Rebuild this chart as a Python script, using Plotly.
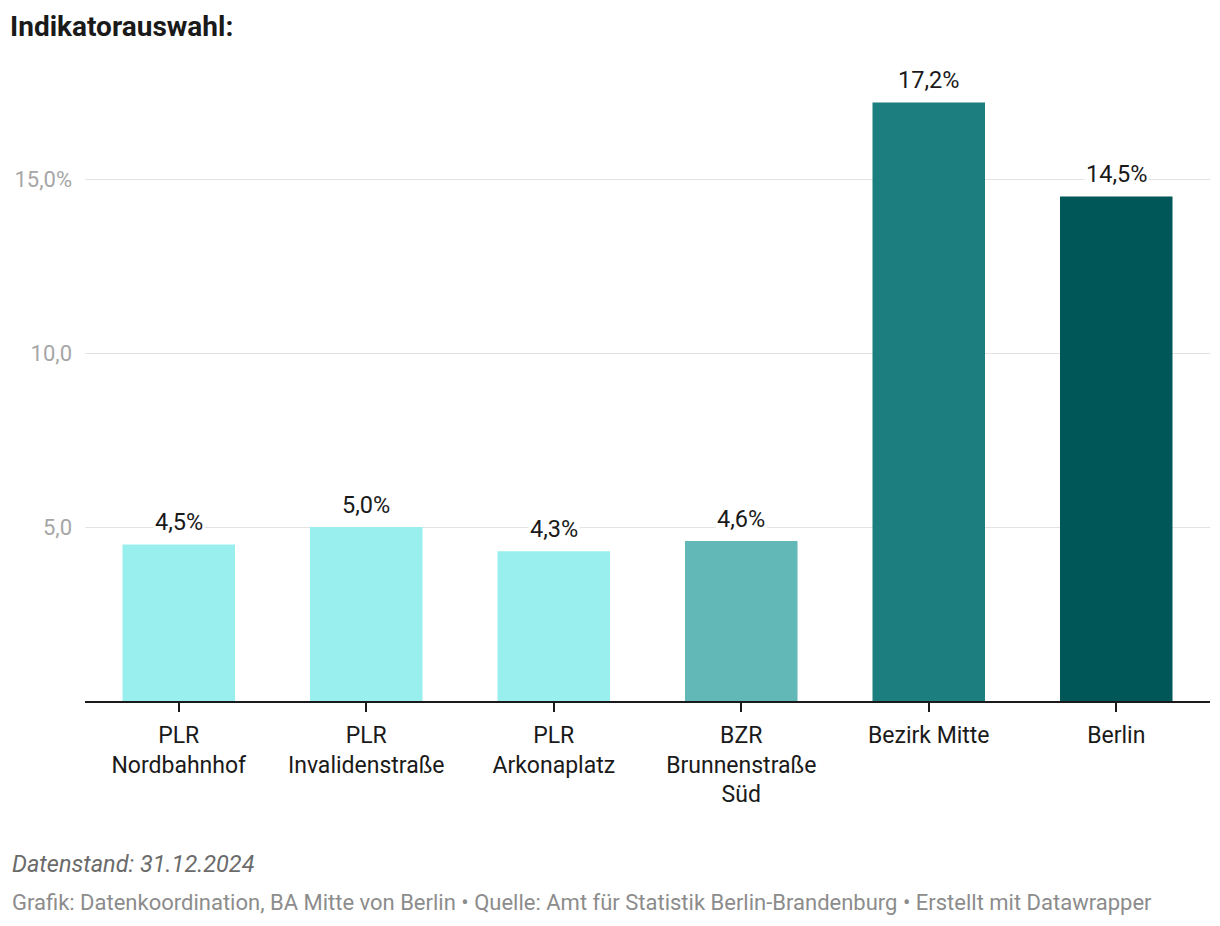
import plotly.graph_objects as go

categories = ["PLR<br>Nordbahnhof", "PLR<br>Invalidenstraße", "PLR<br>Arkonaplatz",
              "BZR<br>Brunnenstraße<br>Süd", "Bezirk Mitte", "Berlin"]
values = [4.5, 5.0, 4.3, 4.6, 17.2, 14.5]
value_labels = ["4,5%", "5,0%", "4,3%", "4,6%", "17,2%", "14,5%"]
bar_colors = ["#98efed", "#98efed", "#98efed", "#61b8b6", "#1c7e7e", "#005757"]
tick_vals = [5, 10, 15]
tick_text = ["5,0", "10,0", "15,0%"]

FONT = "Roboto"

fig = go.Figure()
fig.add_trace(go.Bar(
    x=categories, y=values, marker=dict(color=bar_colors, line=dict(width=0)),
    hoverinfo="skip", showlegend=False,
))

annotations = []
for c, v, t in zip(categories, values, value_labels):
    annotations.append(dict(
        x=c, y=v, xref="x", yref="y", text=t, showarrow=False,
        yanchor="bottom", yshift=6, bgcolor="white", borderpad=1,
        font=dict(family=FONT, size=23.5, color="#1a1a1a"),
    ))

annotations.append(dict(
    xref="paper", yref="paper", x=0, y=0, xshift=-75, yshift=-163,
    xanchor="left", yanchor="middle", showarrow=False,
    text="<i>Datenstand: 31.12.2024</i>",
    font=dict(family=FONT, size=23.5, color="#6b6b6b"),
))
annotations.append(dict(
    xref="paper", yref="paper", x=0, y=0, xshift=-75, yshift=-201,
    xanchor="left", yanchor="middle", showarrow=False,
    text="Grafik: Datenkoordination, BA Mitte von Berlin • Quelle: Amt für Statistik Berlin-Brandenburg • Erstellt mit Datawrapper",
    font=dict(family=FONT, size=22, color="#8c8c8c"),
))

fig.update_layout(
    width=1220, height=926,
    margin=dict(l=85, r=10, t=60, b=225),
    paper_bgcolor="white", plot_bgcolor="white",
    bargap=0.4,
    title=dict(text="<b>Indikatorauswahl:</b>", xref="container", yref="container",
               x=10/1220, y=1 - 26/926, xanchor="left", yanchor="middle",
               font=dict(family=FONT, size=28, color="#1a1a1a")),
    font=dict(family=FONT),
    annotations=annotations,
    xaxis=dict(
        showline=True, linecolor="#1a1a1a", linewidth=2,
        ticks="outside", ticklen=9, tickwidth=2, tickcolor="#1a1a1a",
        ticklabelstandoff=3,
        tickfont=dict(family=FONT, size=23, color="#1a1a1a"),
        showgrid=False, fixedrange=True,
    ),
    yaxis=dict(
        range=[0, 641/34.8], tickvals=tick_vals, ticktext=tick_text,
        showgrid=True, gridcolor="#e3e3e3", gridwidth=1,
        zeroline=False, showline=False, ticks="",
        ticklabelstandoff=12,
        tickfont=dict(family=FONT, size=22, color="#a6a6a6"),
        fixedrange=True,
    ),
)

fig.write_html("out.html", config={"displayModeBar": False},
               post_script="document.body.style.margin='0';document.body.style.overflow='hidden';")
